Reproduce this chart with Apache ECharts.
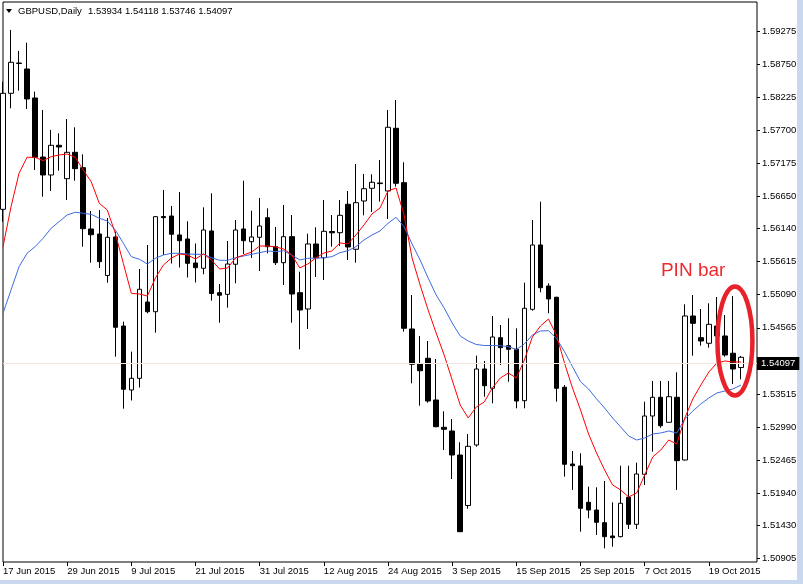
<!DOCTYPE html>
<html><head><meta charset="utf-8">
<script src="https://cdn.jsdelivr.net/npm/echarts@6/dist/echarts.min.js"></script>
<style>html,body{margin:0;padding:0;background:#fff;}#c{width:803px;height:584px;}</style>
</head><body><div id="c"></div>
<script>
// ---- data (GBPUSD Daily, 17 Jun - 23 Oct 2015) ----
const openP = [1.56445,1.58286,1.58759,1.58672,1.58212,1.57275,1.56990,1.57461,1.56931,1.57350,
1.57106,1.56133,1.56053,1.55395,1.56006,1.54593,1.53578,1.53763,1.54974,1.54820,
1.56331,1.56339,1.56038,1.55974,1.55593,1.55509,1.56101,1.55122,1.55096,1.55573,
1.56133,1.55931,1.56001,1.56312,1.55852,1.55598,1.56011,1.55122,1.54863,1.55895,
1.55677,1.56093,1.56074,1.56525,1.55811,1.56577,1.56779,1.56863,1.56736,1.57731,
1.56868,1.54546,1.53990,1.54081,1.53419,1.52986,1.52927,1.52546,1.51745,1.52705,
1.53911,1.53605,1.54408,1.54281,1.54224,1.53408,1.54858,1.55879,1.55228,1.55049,
1.53621,1.52403,1.52372,1.51795,1.51673,1.51472,1.51261,1.51250,1.51875,1.51446,
1.52240,1.53165,1.53462,1.53065,1.53462,1.52467,1.54752,1.54408,1.54319,1.54593,
1.54435,1.54161,1.53934];
const highP = [1.58470,1.59291,1.58958,1.59089,1.58312,1.58021,1.57704,1.57652,1.57878,1.57747,
1.57318,1.56418,1.56434,1.56307,1.56090,1.54662,1.54186,1.55498,1.55879,1.56339,
1.56752,1.56498,1.56720,1.56255,1.55903,1.56477,1.56699,1.55260,1.55942,1.56276,
1.56899,1.56423,1.56625,1.56461,1.56165,1.56514,1.56355,1.55455,1.56058,1.56160,
1.56593,1.56355,1.56593,1.56736,1.57164,1.57006,1.57001,1.57228,1.58021,1.58180,
1.57191,1.55085,1.54435,1.54355,1.54070,1.53240,1.53117,1.52748,1.52879,1.54122,
1.54038,1.54752,1.54609,1.54716,1.54557,1.55281,1.56276,1.56566,1.55271,1.55058,
1.53657,1.52610,1.52573,1.52043,1.52034,1.52134,1.51795,1.52376,1.52376,1.52424,
1.53392,1.53721,1.53721,1.53721,1.53859,1.54938,1.55085,1.54863,1.54954,1.55054,
1.54768,1.55069,1.54118];
const lowP = [1.56249,1.58048,1.58328,1.58037,1.57069,1.56645,1.56736,1.57058,1.56593,1.56899,
1.55852,1.55598,1.55514,1.55281,1.54106,1.53281,1.53411,1.53617,1.54795,1.54487,
1.55720,1.55585,1.55522,1.55363,1.55284,1.55414,1.54995,1.54646,1.54884,1.55271,
1.55736,1.55673,1.55466,1.55747,1.55561,1.55244,1.54646,1.54224,1.54546,1.55371,
1.55323,1.55852,1.55863,1.55641,1.55598,1.56350,1.56403,1.56566,1.56291,1.56807,
1.54503,1.53684,1.53329,1.53376,1.52986,1.52625,1.52165,1.51329,1.51694,1.52678,
1.53471,1.53367,1.53974,1.53709,1.53287,1.53287,1.54836,1.55128,1.54795,1.53392,
1.52202,1.51991,1.51329,1.51542,1.51277,1.51065,1.51091,1.51240,1.51372,1.51372,
1.52070,1.52599,1.52979,1.53062,1.51991,1.52459,1.54122,1.54281,1.54249,1.54292,
1.54106,1.53673,1.53746];
const closeP = [1.58286,1.58778,1.58767,1.58196,1.57271,1.56990,1.57461,1.57434,1.57350,1.57090,
1.56138,1.56042,1.55614,1.56001,1.54573,1.53589,1.53763,1.55176,1.54820,1.56328,
1.56312,1.56049,1.55947,1.55588,1.55519,1.56117,1.55109,1.55081,1.55577,1.56117,
1.55947,1.56006,1.56180,1.55852,1.55598,1.56011,1.55101,1.54847,1.55895,1.55677,
1.56096,1.56072,1.56350,1.55847,1.56550,1.56772,1.56874,1.56853,1.57747,1.56858,
1.54557,1.53986,1.53884,1.53403,1.52995,1.52954,1.52546,1.51329,1.52684,1.53911,
1.53646,1.54419,1.54249,1.54224,1.53403,1.54874,1.55879,1.55201,1.55022,1.53605,
1.52399,1.52376,1.51700,1.51673,1.51478,1.51250,1.51234,1.51780,1.51446,1.52245,
1.53165,1.53462,1.53011,1.53471,1.52456,1.54752,1.54636,1.54355,1.54620,1.54435,
1.54133,1.53911,1.54097];
const maRed = [1.55852,1.56487,1.57017,1.57271,1.57271,1.57217,1.57280,1.57307,1.57323,1.57271,
1.57069,1.56883,1.56541,1.56434,1.56065,1.55588,1.55112,1.55101,1.55069,1.55355,
1.55561,1.55673,1.55736,1.55720,1.55657,1.55736,1.55641,1.55498,1.55514,1.55673,
1.55720,1.55768,1.55863,1.55863,1.55847,1.55815,1.55720,1.55514,1.55577,1.55673,
1.55752,1.55784,1.55911,1.55895,1.56038,1.56196,1.56371,1.56466,1.56736,1.56783,
1.56355,1.55673,1.55244,1.54847,1.54482,1.54133,1.53736,1.53340,1.53133,1.53308,
1.53387,1.53609,1.53768,1.53847,1.53768,1.54054,1.54419,1.54593,1.54704,1.54451,
1.54006,1.53609,1.53260,1.52879,1.52578,1.52308,1.52070,1.51991,1.51880,1.51943,
1.52229,1.52514,1.52625,1.52784,1.52721,1.53133,1.53435,1.53657,1.53863,1.54006,
1.54038,1.54022,1.54022];
const maBlue = [1.54795,1.55165,1.55534,1.55747,1.55852,1.55985,1.56144,1.56249,1.56355,1.56398,
1.56382,1.56366,1.56303,1.56260,1.56117,1.55906,1.55693,1.55652,1.55577,1.55668,
1.55720,1.55747,1.55747,1.55736,1.55731,1.55731,1.55677,1.55636,1.55636,1.55677,
1.55704,1.55731,1.55757,1.55784,1.55773,1.55788,1.55720,1.55641,1.55668,1.55668,
1.55677,1.55693,1.55757,1.55788,1.55852,1.55958,1.56038,1.56101,1.56223,1.56318,
1.56169,1.55895,1.55641,1.55355,1.55085,1.54879,1.54641,1.54435,1.54355,1.54300,
1.54284,1.54284,1.54281,1.54265,1.54220,1.54308,1.54451,1.54514,1.54519,1.54398,
1.54186,1.53947,1.53709,1.53594,1.53435,1.53292,1.53133,1.52991,1.52848,1.52784,
1.52816,1.52879,1.52895,1.52927,1.52895,1.53117,1.53244,1.53356,1.53451,1.53530,
1.53562,1.53594,1.53657];
const yTickLabels = [1.59275,1.58750,1.58225,1.57700,1.57175,1.56650,1.56140,1.55615,1.55090,
1.54565,1.54040,1.53515,1.52990,1.52465,1.51940,1.51430,1.50905];
const monthNames = ['Jan','Feb','Mar','Apr','May','Jun','Jul','Aug','Sep','Oct','Nov','Dec'];
const firstDay = [2015, 5, 17];
const emptySlots = 2;
const lastPrice = 1.54097;
const headerSymbol = 'GBPUSD,Daily';
const headerValues = '1.53934 1.54118 1.53746 1.54097';
const noteText = 'PIN bar';
const noteBar = 91;
const notePrice = 1.54355;

// trading-day categories (weekdays)
const categories = [];
let dt = new Date(Date.UTC(firstDay[0], firstDay[1], firstDay[2]));
while (categories.length < openP.length + emptySlots) {
  const wd = dt.getUTCDay();
  if (wd !== 0 && wd !== 6) categories.push(dt.getUTCDate() + ' ' + monthNames[dt.getUTCMonth()] + ' ' + dt.getUTCFullYear());
  dt = new Date(dt.getTime() + 86400000);
}
const candles = openP.map((o, i) => [o, closeP[i], lowP[i], highP[i]]);

const FONT = '"Liberation Sans", Arial, sans-serif';
const chart = echarts.init(document.getElementById('c'), null, {renderer: 'canvas'});
chart.setOption({
  animation: false,
  backgroundColor: '#fff',
  grid: {left: 3, top: 2, right: 46, bottom: 22, show: true, borderColor: '#000', borderWidth: 1, backgroundColor: '#fff'},
  xAxis: {
    type: 'category', data: categories, boundaryGap: false,
    axisLine: {show: false},
    axisTick: {show: true, interval: 7, length: 4, lineStyle: {color: '#000'}},
    axisLabel: {interval: 7, align: 'left', margin: 4, color: '#000', fontFamily: FONT, fontSize: 9.5, showMinLabel: true, hideOverlap: false},
    splitLine: {show: false}
  },
  yAxis: {
    type: 'value', position: 'right', min: 1.50848, max: 1.59735,
    axisLine: {show: false},
    axisTick: {show: true, length: 3, customValues: yTickLabels, lineStyle: {color: '#000'}},
    axisLabel: {customValues: yTickLabels, formatter: v => v.toFixed(5), margin: 5, color: '#000', fontFamily: FONT, fontSize: 9.5},
    splitLine: {show: false}
  },
  series: [
    {
      type: 'candlestick', data: candles, barWidth: 5, clip: true,
      itemStyle: {color: '#fff', color0: '#000', borderColor: '#000', borderColor0: '#000', borderWidth: 1},
      markLine: {
        silent: true, symbol: 'none', animation: false,
        lineStyle: {color: '#f3e6df', type: 'solid', width: 1},
        label: {position: 'end', distance: 0, formatter: lastPrice.toFixed(5), backgroundColor: '#000', color: '#fff',
          padding: [2, 4, 1, 4], fontFamily: FONT, fontSize: 9.5},
        data: [{yAxis: lastPrice}]
      }
    },
    {type: 'line', data: maBlue, symbol: 'none', smooth: false, lineStyle: {color: '#3f6be0', width: 1}, z: 3},
    {type: 'line', data: maRed, symbol: 'none', smooth: false, lineStyle: {color: '#ff0000', width: 1}, z: 4}
  ]
});

const c = chart.convertToPixel({xAxisIndex: 0, yAxisIndex: 0}, [noteBar, notePrice]);
chart.setOption({
  graphic: [
    {type: 'polygon', shape: {points: [[6, 9], [12, 9], [9, 13]]}, style: {fill: '#000'}},
    {type: 'text', x: 18, y: 11, style: {text: headerSymbol, fill: '#000', font: '9.5px ' + FONT, verticalAlign: 'middle'}},
    {type: 'text', x: 88, y: 11, style: {text: headerValues, fill: '#000', font: '9.5px ' + FONT, verticalAlign: 'middle'}},
    {type: 'ellipse', shape: {cx: c[0] + 2, cy: c[1], rx: 17.5, ry: 54.5}, style: {fill: 'none', stroke: '#e8222b', lineWidth: 4.5}, z: 100},
    {type: 'text', x: c[0] - 72, y: c[1] - 70, style: {text: noteText, fill: '#ee2a2e', font: '19px ' + FONT, verticalAlign: 'middle'}, z: 100},
    {type: 'rect', shape: {x: 797, y: 0, width: 6, height: 584}, style: {fill: '#c9d8ee'}},
    {type: 'rect', shape: {x: 0, y: 580, width: 803, height: 4}, style: {fill: '#c9d8ee'}}
  ]
});
</script></body></html>
